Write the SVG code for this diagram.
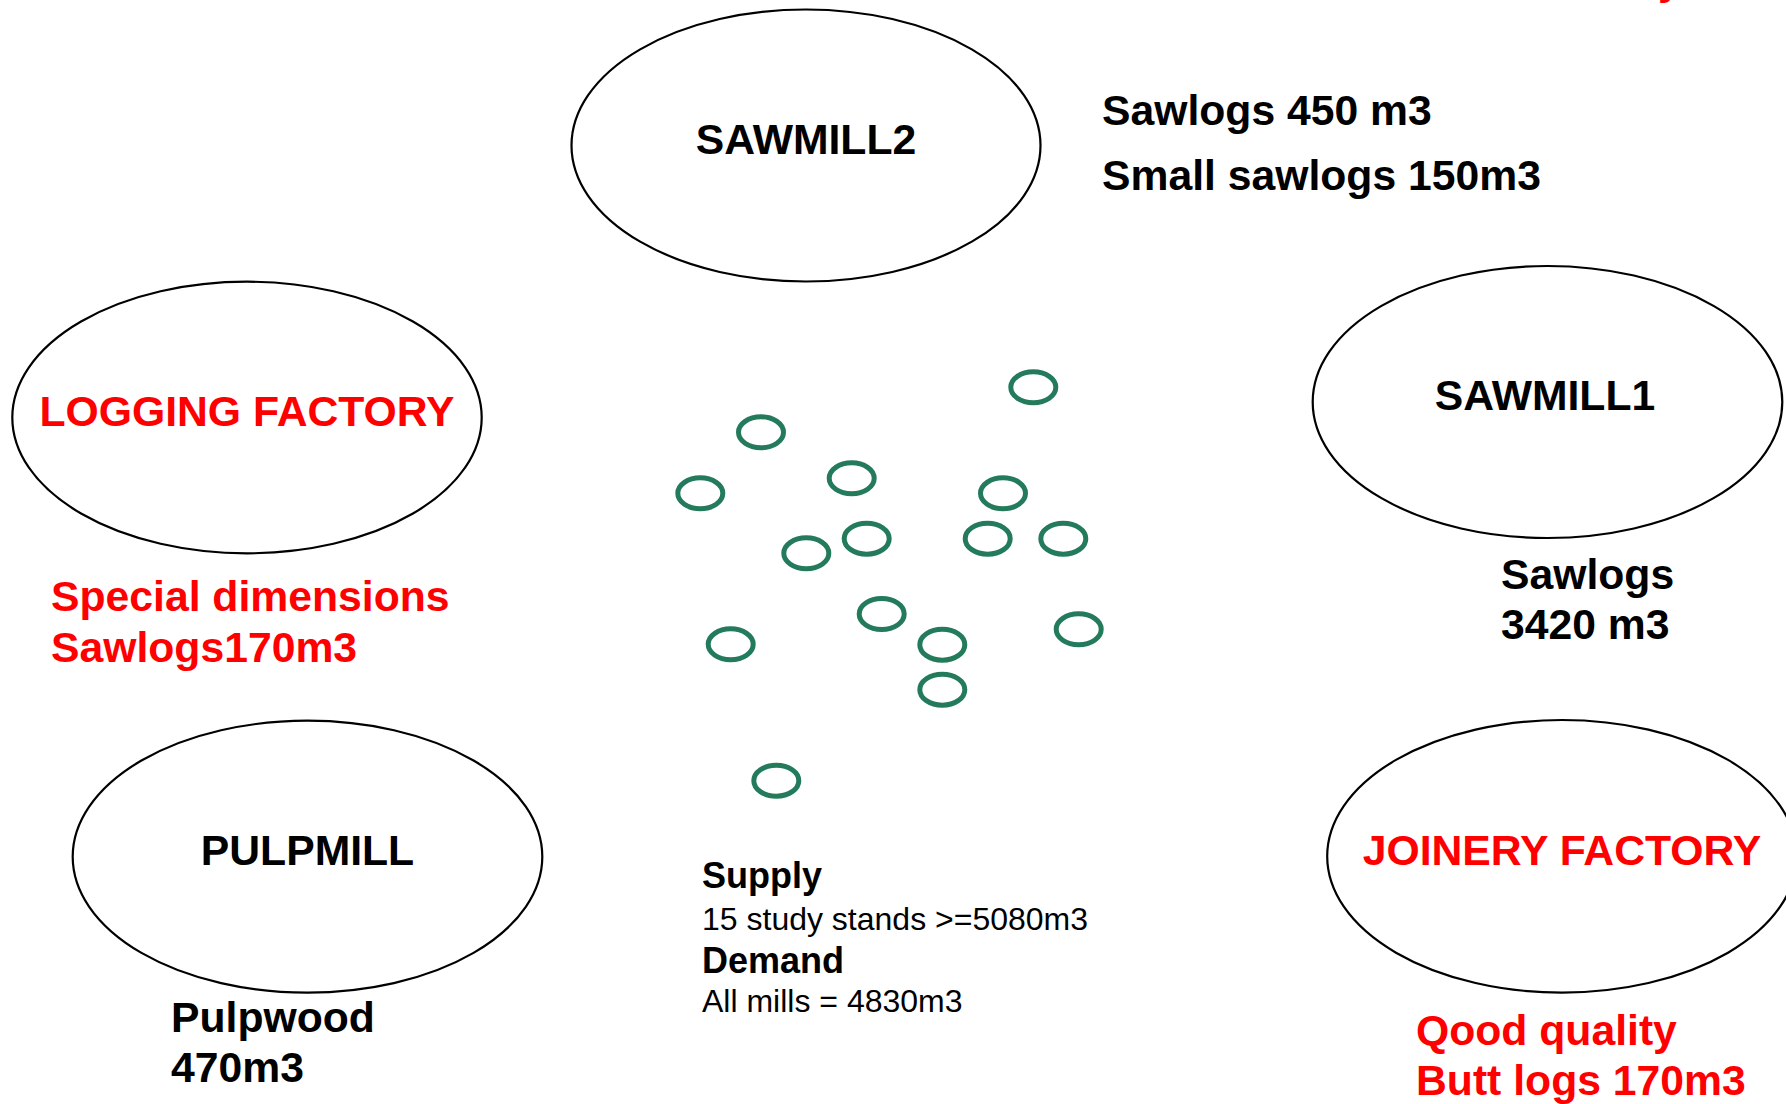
<svg xmlns="http://www.w3.org/2000/svg" width="1786" height="1104" viewBox="0 0 1786 1104">
<style>
.mill{fill:#ffffff;stroke:#000000;stroke-width:2.2}
.stand{fill:none;stroke:#237b5b;stroke-width:5}
.t{font-family:"Liberation Sans",Arial,sans-serif;font-weight:bold;font-size:42.7px}
.blk{fill:#000000}
.red{fill:#ff0000}
.c{text-anchor:middle}
.sb{font-family:"Liberation Sans",Arial,sans-serif;font-weight:bold;font-size:36px;fill:#000000}
.sr{font-family:"Liberation Sans",Arial,sans-serif;font-size:32px;fill:#000000}
</style>
<rect x="0" y="0" width="1786" height="1104" fill="#ffffff"/>
<g id="connectors"></g>
<g id="sawmill2">
<ellipse class="mill" cx="806" cy="145.5" rx="234.5" ry="136"/>
<text class="t blk c" x="806" y="154">SAWMILL2</text>
</g>
<g id="sawmill2-label">
<text class="t blk" x="1102" y="125">Sawlogs 450 m3</text>
<text class="t blk" x="1102" y="190">Small sawlogs 150m3</text>
</g>
<g id="logging-factory">
<ellipse class="mill" cx="247" cy="417.5" rx="234.7" ry="135.8"/>
<text class="t red c" x="247" y="425.5">LOGGING FACTORY</text>
</g>
<g id="logging-label">
<text class="t red" x="51" y="611">Special dimensions</text>
<text class="t red" x="51" y="662">Sawlogs170m3</text>
</g>
<g id="sawmill1">
<ellipse class="mill" cx="1547.5" cy="402" rx="234.8" ry="136"/>
<text class="t blk c" x="1545" y="410">SAWMILL1</text>
</g>
<g id="sawmill1-label">
<text class="t blk" x="1501" y="588.5">Sawlogs</text>
<text class="t blk" x="1501" y="638.5">3420 m3</text>
</g>
<g id="pulpmill">
<ellipse class="mill" cx="307.5" cy="856.7" rx="234.8" ry="136"/>
<text class="t blk c" x="307.5" y="865">PULPMILL</text>
</g>
<g id="pulpmill-label">
<text class="t blk" x="171" y="1031.5">Pulpwood</text>
<text class="t blk" x="171" y="1081.5">470m3</text>
</g>
<g id="joinery-factory">
<ellipse class="mill" cx="1562" cy="856.3" rx="234.8" ry="136.3"/>
<text class="t red c" x="1562" y="865">JOINERY FACTORY</text>
</g>
<g id="joinery-label">
<text class="t red" x="1416" y="1045">Qood quality</text>
<text class="t red" x="1416" y="1095">Butt logs 170m3</text>
</g>
<g id="cut-label">
<text class="t red" x="1658" y="-6">y</text>
</g>
<g id="stands">
<ellipse id="stand1" class="stand" cx="1033.3" cy="387.3" rx="22.5" ry="15.5"/>
<ellipse id="stand2" class="stand" cx="761" cy="432.3" rx="22.5" ry="15.5"/>
<ellipse id="stand3" class="stand" cx="700.3" cy="493.3" rx="22.5" ry="15.5"/>
<ellipse id="stand4" class="stand" cx="851.7" cy="478.3" rx="22.5" ry="15.5"/>
<ellipse id="stand5" class="stand" cx="1003" cy="493.3" rx="22.5" ry="15.5"/>
<ellipse id="stand6" class="stand" cx="806.3" cy="553.3" rx="22.5" ry="15.5"/>
<ellipse id="stand7" class="stand" cx="866.7" cy="538.7" rx="22.5" ry="15.5"/>
<ellipse id="stand8" class="stand" cx="987.7" cy="538.7" rx="22.5" ry="15.5"/>
<ellipse id="stand9" class="stand" cx="1063.3" cy="538.7" rx="22.5" ry="15.5"/>
<ellipse id="stand10" class="stand" cx="881.7" cy="614" rx="22.5" ry="15.5"/>
<ellipse id="stand11" class="stand" cx="730.7" cy="644.3" rx="22.5" ry="15.5"/>
<ellipse id="stand12" class="stand" cx="942.3" cy="644.7" rx="22.5" ry="15.5"/>
<ellipse id="stand13" class="stand" cx="1078.7" cy="629.3" rx="22.5" ry="15.5"/>
<ellipse id="stand14" class="stand" cx="942.3" cy="689.7" rx="22.5" ry="15.5"/>
<ellipse id="stand15" class="stand" cx="776.3" cy="780.7" rx="22.5" ry="15.5"/>
</g>
<g id="summary">
<text class="sb" x="702" y="888">Supply</text>
<text class="sr" x="702" y="930">15 study stands &gt;=5080m3</text>
<text class="sb" x="702" y="973">Demand</text>
<text class="sr" x="702" y="1011.5">All mills = 4830m3</text>
</g>
</svg>
